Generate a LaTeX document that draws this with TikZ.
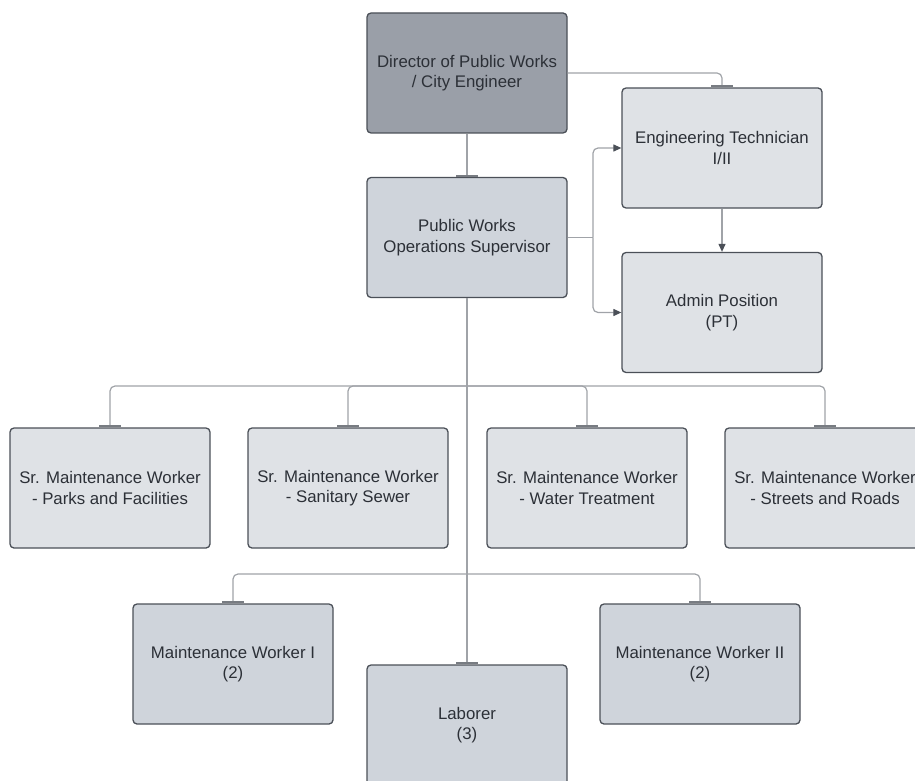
\documentclass[tikz,border=0pt]{standalone}
\usepackage{fontspec}
\setmainfont{Liberation Sans}
\usetikzlibrary{arrows.meta,positioning}
\definecolor{dirfill}{HTML}{9A9FA8}
\definecolor{midfill}{HTML}{CFD4DB}
\definecolor{litefill}{HTML}{DFE2E6}
\definecolor{boxline}{HTML}{4B5058}
\definecolor{connline}{HTML}{A0A3A8}
\definecolor{txt}{HTML}{2C3037}
\begin{document}
\begin{tikzpicture}[x=1pt,y=-1pt,
  box/.style={draw=boxline,line width=1.3pt,rounded corners=4pt,minimum width=200pt,minimum height=120pt,
    align=center,text=txt,font=\fontsize{16.8}{20.5}\selectfont,inner sep=0pt},
  conn/.style={draw=connline,line width=1.2pt,rounded corners=5pt},
  tee/.style={conn,-{Bar[width=22pt,line width=2pt,color=boxline!75]}},
  arr/.style={conn,-{Triangle[length=8pt,width=7pt,color=boxline]}}]
\useasboundingbox (0,0) rectangle (915,781);
\node[box,fill=dirfill] (dir) at (467,73) {Director of Public Works\\/ City Engineer};
\node[box,fill=litefill] (eng) at (722,148) {Engineering Technician\\I/II};
\node[box,fill=midfill] (pw) at (467,237.5) {Public Works\\Operations Supervisor};
\node[box,fill=litefill] (adm) at (722,312.5) {Admin Position\\(PT)};
\node[box,fill=litefill] (sr1) at (110,488) {Sr. Maintenance Worker\\- Parks and Facilities};
\node[box,fill=litefill] (sr2) at (348,488) {Sr. Maintenance Worker\\- Sanitary Sewer};
\node[box,fill=litefill] (sr3) at (587,488) {Sr. Maintenance Worker\\- Water Treatment};
\node[box,fill=litefill] (sr4) at (825,488) {Sr. Maintenance Worker\\- Streets and Roads};
\node[box,fill=midfill] (mw1) at (233,664) {Maintenance Worker I\\(2)};
\node[box,fill=midfill] (mw2) at (700,664) {Maintenance Worker II\\(2)};
\node[box,fill=midfill] (lab) at (467,725) {Laborer\\(3)};
\coordinate (b1) at (467,386);
\coordinate (b2) at (467,574);
\coordinate (sp) at (593,237.5);
% connectors
\draw[tee] (dir.east) -| (eng.north);
\draw[tee] (dir.south) -- (pw.north);
\draw[conn] (pw.east) -- (sp);
\draw[arr] (sp) |- (eng.west);
\draw[arr] (sp) |- (adm.west);
\draw[arr] (eng.south) -- (adm.north);
\draw[tee] (pw.south) -- (lab.north);
\draw[tee] (b1) -| (sr1.north);
\draw[tee] (b1) -| (sr2.north);
\draw[tee] (b1) -| (sr3.north);
\draw[tee] (b1) -| (sr4.north);
\draw[tee] (b2) -| (mw1.north);
\draw[tee] (b2) -| (mw2.north);
\end{tikzpicture}
\end{document}
